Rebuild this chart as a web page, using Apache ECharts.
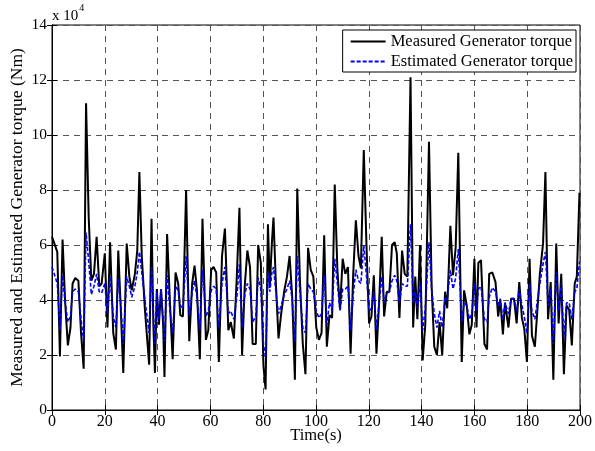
<!DOCTYPE html>
<html>
<head>
<meta charset="utf-8">
<script src="https://cdn.jsdelivr.net/npm/echarts@6/dist/echarts.min.js"></script>
<style>
  html,body{margin:0;padding:0;background:#fff}
  #chart{width:595px;height:451px}
</style>
</head>
<body>
<div id="chart"></div>
<script>
// time (s) and torque values in units of 1e4 Nm
var times = [0,2,3,4,5,6,7,7.8,8.8,10,11,12,12.9,13.9,14.9,15.9,16.9,17.9,18.8,20,21,22,23.2,24.2,25.1,26,27,28.3,29.3,30.2,31.4,32.3,33.1,34,35.2,36.8,37.7,38.4,39,39.7,40.5,41.3,42.1,42.6,43.6,44.7,45.7,46.8,47.8,48.6,49.6,50.8,52,53.1,54,54.9,56,57,58.3,59.2,60.3,61.2,62.2,63.2,64.4,65.5,66.8,67.7,68.9,70,71,72,73,74,75,76,77.2,78.1,79.1,80.1,80.9,81.8,82.5,83.3,83.9,84.8,85.8,86.8,88,89,90,91,92,92.9,93.9,95,96,97,98,99,100.1,101.1,102.1,103.1,104.1,105.1,106.1,107.1,108.1,109.1,110.1,111.1,112.1,113.1,114.1,115.1,116.1,117,118.1,119.1,120.1,121,121.9,122.9,123.9,124.9,125.8,126.8,127.8,128.8,129.8,130.6,131.6,132.6,133.6,134.6,135.8,136.8,137.6,138.4,139.4,140.4,141.4,142.8,143.8,144.8,145.8,146.8,147.8,148.9,149.7,150.9,151.9,152.9,153.9,155.2,156.1,157.1,158.1,159,160,160.8,161.5,162.5,163.8,164.8,165.6,166.8,168,169,169.8,170.8,171.6,172.9,173.9,175,176,177,178,178.9,179.9,180.9,181.8,182.9,184.8,186,186.9,187.9,188.9,189.9,191,191.9,192.9,193.9,194.9,195.9,196.9,198,198.8,199.8];
var measured = [6.3,5.75,1.95,6.2,3.9,2.35,3.0,4.6,4.8,4.7,2.8,1.5,11.15,7.0,4.7,4.95,6.3,4.5,4.6,5.7,3.0,6.1,2.8,2.2,5.8,3.8,1.35,6.05,4.85,4.35,4.95,5.8,8.65,5.6,3.65,1.65,6.95,3.1,1.35,4.4,3.1,4.4,3.1,1.2,6.4,3.85,1.85,5.0,4.6,3.45,3.4,8.0,2.5,4.6,5.25,4.35,1.85,6.95,2.55,2.9,5.1,5.2,5.0,1.75,5.6,6.6,2.9,3.2,2.6,4.85,7.35,2.0,4.5,5.8,5.2,2.4,2.4,6.0,5.35,1.6,0.75,6.75,4.5,6.1,7.0,4.6,2.6,3.5,4.35,4.85,5.6,4.1,1.1,8.05,4.75,2.4,1.3,5.9,5.1,4.85,3.0,2.55,2.8,6.35,2.3,3.45,3.35,8.2,5.1,3.65,5.5,4.95,5.2,2.05,4.95,6.9,5.6,5.15,9.45,6.05,3.15,3.4,4.9,2.05,3.9,6.3,3.4,4.3,4.3,6.0,6.1,5.7,3.35,5.8,4.95,4.85,12.1,3.0,4.85,3.3,6.0,1.8,3.1,9.75,4.5,2.3,2.0,3.2,2.0,4.3,3.7,6.7,4.9,5.9,9.35,1.75,4.35,3.8,2.75,3.1,5.5,3.0,5.35,5.45,2.4,2.2,4.95,5.0,4.65,3.4,4.0,2.75,3.9,3.0,4.05,4.05,3.15,4.65,3.35,2.95,1.75,5.5,2.7,2.3,4.95,6.05,8.65,3.3,4.65,1.1,6.05,3.15,4.95,1.3,3.8,3.65,2.35,4.6,4.85,7.9];
var estimated = [5.2,4.6,2.9,4.9,3.9,3.2,3.4,4.3,4.4,4.3,3.3,2.5,6.45,5.4,4.2,4.5,4.95,4.3,4.25,4.6,3.5,4.85,3.4,3.0,4.75,3.9,2.4,4.85,4.5,4.1,4.5,5.0,5.75,5.0,4.0,2.8,5.2,3.5,2.4,4.3,3.3,4.4,3.3,2.5,4.9,3.6,2.8,4.5,4.35,3.8,3.7,5.6,3.4,4.3,4.7,4.1,2.9,5.1,3.4,3.6,4.35,4.5,4.4,3.0,4.6,5.2,3.5,3.6,3.3,4.1,5.3,3.0,4.2,4.6,4.4,3.2,3.4,4.8,4.4,2.4,1.9,5.0,4.3,5.0,5.2,4.3,3.5,3.8,4.2,4.4,4.7,4.0,2.5,5.6,4.3,3.0,2.8,4.6,4.4,4.3,3.6,3.35,3.5,4.9,3.1,3.9,3.6,5.5,4.6,3.6,4.4,4.4,4.5,2.9,4.2,5.1,4.7,4.6,6.0,4.9,3.6,3.7,4.3,2.9,3.9,4.85,3.9,4.25,4.3,4.7,4.9,4.7,3.9,4.6,4.5,4.5,6.75,3.9,4.3,3.7,4.6,2.9,3.7,6.1,4.4,3.5,3.0,3.6,3.0,4.1,4.0,5.1,4.4,4.8,5.85,3.2,3.9,3.8,3.3,3.5,4.6,3.6,4.4,4.5,3.3,3.2,4.1,4.45,4.3,3.8,4.05,3.3,3.9,3.5,4.05,4.05,3.6,4.4,3.8,3.4,2.8,4.6,3.6,3.3,4.6,5.3,5.75,3.8,4.4,2.4,5.0,3.6,4.6,2.6,3.9,3.9,3.3,4.3,4.4,5.4];
var seriesNames = ['Measured Generator torque', 'Estimated Generator torque'];
var xTicks = [0,20,40,60,80,100,120,140,160,180,200];
var yTicks = [0,2,4,6,8,10,12,14];

var font = 'Liberation Serif, Times New Roman, serif';
var chart = echarts.init(document.getElementById('chart'));

var pairs = function(vals){
  return times.map(function(t,i){ return [t, vals[i]]; });
};

var gridLine = {show:true, lineStyle:{color:'#555', type:[6,5], width:1}};

var option = {
  animation:false,
  backgroundColor:'#fff',
  grid:{left:52, right:15, top:25, bottom:41, show:true, borderColor:'#000', borderWidth:1,
        containLabel:false, outerBoundsMode:'none'},
  graphic:[{
    type:'text', left:52, top:3,
    style:{
      text:'{a|x 10}{b|4}',
      rich:{
        a:{fontFamily:font, fontSize:15, fill:'#000', padding:[9,0,0,0]},
        b:{fontFamily:font, fontSize:10, fill:'#000', padding:[0,0,7,1]}
      }
    }
  }],
  legend:{
    data:seriesNames,
    orient:'vertical',
    right:19, top:30,
    backgroundColor:'#fff',
    borderColor:'#000', borderWidth:1,
    padding:[3,3,2,7],
    itemGap:3,
    itemWidth:35, itemHeight:16,
    itemStyle:{opacity:0},
    textStyle:{fontFamily:font, fontSize:16.5, color:'#000'}
  },
  xAxis:[{
    type:'value', min:xTicks[0], max:xTicks[xTicks.length-1], interval:20,
    name:'Time(s)', nameLocation:'middle', nameGap:17, nameMoveOverlap:false,
    nameTextStyle:{fontFamily:font, fontSize:16.5, color:'#000', verticalAlign:'top'},
    axisLine:{lineStyle:{color:'#000'}},
    axisTick:{inside:true, length:5, lineStyle:{color:'#000'}},
    axisLabel:{fontFamily:font, fontSize:16, color:'#000', margin:4},
    splitLine:gridLine
  },{
    type:'value', position:'top', min:xTicks[0], max:xTicks[xTicks.length-1], interval:20,
    axisLine:{show:true, lineStyle:{color:'#000'}},
    axisTick:{inside:true, length:5, lineStyle:{color:'#000'}},
    axisLabel:{show:false}, splitLine:{show:false}
  }],
  yAxis:[{
    type:'value', min:yTicks[0], max:yTicks[yTicks.length-1], interval:2,
    name:'Measured and Estimated Generator torque (Nm)', nameLocation:'middle', nameGap:26, nameMoveOverlap:false,
    nameTextStyle:{fontFamily:font, fontSize:17.5, color:'#000'},
    axisLine:{show:true, lineStyle:{color:'#000'}},
    axisTick:{show:true, inside:true, length:5, lineStyle:{color:'#000'}},
    axisLabel:{fontFamily:font, fontSize:15.5, color:'#000', margin:5},
    splitLine:gridLine
  },{
    type:'value', position:'right', min:yTicks[0], max:yTicks[yTicks.length-1], interval:2,
    axisLine:{show:true, lineStyle:{color:'#000'}},
    axisTick:{show:true, inside:true, length:5, lineStyle:{color:'#000'}},
    axisLabel:{show:false}, splitLine:{show:false}
  }],
  series:[{
    name:seriesNames[0], type:'line', data:pairs(measured),
    symbol:'none', z:2,
    lineStyle:{color:'#000', width:2},
    itemStyle:{color:'#000'}
  },{
    name:seriesNames[1], type:'line', data:pairs(estimated),
    symbol:'none', z:3,
    lineStyle:{color:'#0000ff', width:1.6, type:[4,2]},
    itemStyle:{color:'#0000ff'}
  }]
};
chart.setOption(option);
</script>
</body>
</html>
